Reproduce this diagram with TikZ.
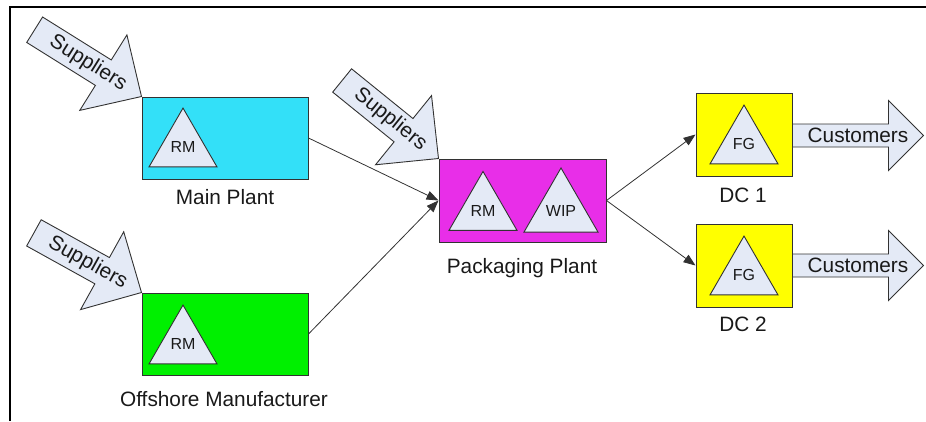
\documentclass[tikz,border=0pt]{standalone}
\usepackage{fontspec}
\setmainfont{Liberation Sans}
\usetikzlibrary{shapes.geometric,arrows.meta,calc}
\definecolor{cyanbox}{RGB}{51,224,248}
\definecolor{greenbox}{RGB}{0,240,0}
\definecolor{magbox}{RGB}{232,46,232}
\definecolor{yelbox}{RGB}{255,255,0}
\definecolor{paleblue}{RGB}{228,234,246}
\definecolor{linec}{RGB}{50,50,50}
\definecolor{txt}{RGB}{25,25,25}
\newcommand\bigarrow[8]{%
  \begin{scope}[shift={#2},rotate=#3]
    \draw[arrowshape] (0,0) -- (-#7,#6) -- (-#7,#5) -- (-#4,#5) -- (-#4,-#5)
      -- (-#7,-#5) -- (-#7,-#6) -- cycle;
    \node[arrowtext] (#1) at ({-#4/2},0) {#8};
  \end{scope}}
\tikzset{
  arrowshape/.style={draw=linec, line width=0.9pt, fill=paleblue, line join=miter},
  arrowtext/.style={transform shape, inner sep=0pt, text=txt, font=\fontsize{20.8}{24}\selectfont},
  facility/.style={draw=linec, line width=1pt, inner sep=0pt},
  stock/.style={regular polygon, regular polygon sides=3, minimum size=78.5pt,
    inner sep=0pt, draw=linec, line width=0.9pt, fill=paleblue, text=txt,
    font=\fontsize{16}{18}\selectfont},
  caption/.style={inner sep=0pt, text=txt, font=\fontsize{20.8}{24}\selectfont},
  conn/.style={draw=linec, line width=0.8pt, -{Triangle[length=12pt,width=9pt]}}
}
\begin{document}
\begin{tikzpicture}[x=1pt,y=-1pt]
\useasboundingbox (0,0) rectangle (926,421);
% frame
\draw[black, line width=1.2pt] (10,421) -- (10,7) -- (926,7);
% facilities
\node[facility, fill=cyanbox, minimum width=166pt, minimum height=82pt] (mp) at (225,138) {};
\node[facility, fill=greenbox, minimum width=166pt, minimum height=82pt] (om) at (225,334) {};
\node[facility, fill=magbox, minimum width=167pt, minimum height=83pt] (pp) at (522.5,200.5) {};
\node[facility, fill=yelbox, minimum width=96pt, minimum height=83pt] (dc1) at (744,134.5) {};
\node[facility, fill=yelbox, minimum width=96pt, minimum height=83pt] (dc2) at (744,265.5) {};
% stock triangles
\node[stock] (mprm) at (183,147.3) {RM};
\node[stock] (omrm) at (183,344.3) {RM};
\node[stock] (pprm) at (483,210.7) {RM};
\node[stock] (ppwip) at (561,210.7) {WIP};
\node[stock] (dc1fg) at (744,144.3) {FG};
\node[stock] (dc2fg) at (744,275.3) {FG};
% captions
\node[caption] (mpl) at (225,197) {Main Plant};
\node[caption] (oml) at (224,399) {Offshore Manufacturer};
\node[caption] (ppl) at (522,268) {Packaging Plant};
\node[caption] (dc1l) at (743,195) {DC 1};
\node[caption] (dc2l) at (743,324) {DC 2};
% big arrows
\bigarrow{sup1}{(mp.north west)}{-32}{126}{15}{44.5}{45}{Suppliers}
\bigarrow{sup2}{(om.north west)}{-29}{123}{15}{44.5}{45}{Suppliers}
\bigarrow{sup3}{(pp.north west)}{-39}{124}{15}{44.5}{45}{Suppliers}
\bigarrow{cust1}{($(dc1.east)+(131,1)$)}{0}{131}{11.5}{35}{35}{Customers}
\bigarrow{cust2}{($(dc2.east)+(131,0)$)}{0}{131}{11.5}{35}{35}{Customers}
% connectors
\draw[conn] (mp.east) -- (pp.west);
\draw[conn] (om.east) -- (pp.west);
\draw[conn] (pp.east) -- (dc1.west);
\draw[conn] (pp.east) -- (dc2.west);
\end{tikzpicture}
\end{document}
